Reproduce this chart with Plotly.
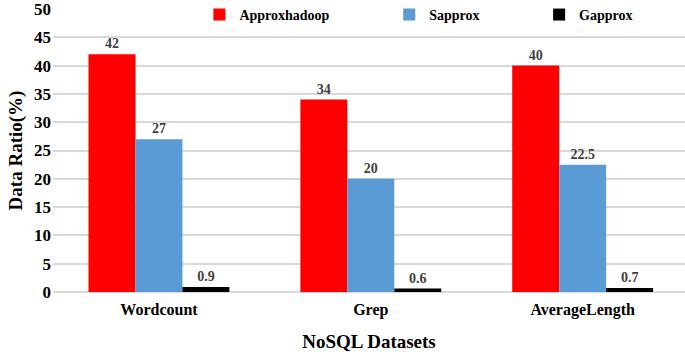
import plotly.graph_objects as go

categories = ["Wordcount", "Grep", "AverageLength"]
approxhadoop = [42, 34, 40]
sapprox = [27, 20, 22.5]
gapprox = [0.9, 0.6, 0.7]
series_names = ["Approxhadoop", "Sapprox", "Gapprox"]
colors = ["#FF0000", "#5B9BD5", "#000000"]

FONT = "Liberation Serif"

W, H = 685, 354
L, T, B, R = 52.5, 9, 62, 0
PW = W - L - R

fig = go.Figure()
legends = ["legend", "legend2", "legend3"]
for name, vals, col, lg in zip(series_names, [approxhadoop, sapprox, gapprox], colors, legends):
    fig.add_trace(go.Bar(
        x=categories, y=vals, name=name, marker=dict(color=col, line=dict(width=0)),
        text=[str(v) for v in vals], textposition="outside",
        textfont=dict(family=FONT, size=14, color="#404040", weight="bold"),
        cliponaxis=False, legend=lg, showlegend=True,
    ))

leg_common = dict(orientation="h", bgcolor="rgba(0,0,0,0)", yanchor="middle", y=0.979,
                  xanchor="left", font=dict(family=FONT, size=14, color="#000000", weight="bold"),
                  itemwidth=30, visible=True)

fig.update_layout(
    width=W, height=H,
    showlegend=True,
    margin=dict(l=L, r=R, t=T, b=B, autoexpand=False),
    paper_bgcolor="white", plot_bgcolor="white",
    barmode="group", bargap=0.335, bargroupgap=0,
    font=dict(family=FONT, color="#000000"),
    legend=dict(leg_common, x=(199 - L) / PW),
    legend2=dict(leg_common, x=(389 - L) / PW),
    legend3=dict(leg_common, x=(539 - L) / PW),
    xaxis=dict(range=[-0.5, 2.483], showgrid=False, showline=False, ticks="", automargin=False,
               tickfont=dict(family=FONT, size=16, weight="bold"), ticklabelstandoff=6,
               title=dict(text="NoSQL Datasets", font=dict(family=FONT, size=19, weight="bold"), standoff=16)),
    yaxis=dict(range=[0, 50], dtick=5, showgrid=True, gridcolor="#D9D9D9", gridwidth=1.5, automargin=False,
               zeroline=True, zerolinecolor="#D9D9D9", zerolinewidth=1.5, ticklabeloverflow="allow",
               tickfont=dict(family=FONT, size=17, weight="bold"), ticks="", ticklabelstandoff=1,
               title=dict(text="Data Ratio(%)", font=dict(family=FONT, size=19, weight="bold"), standoff=6)),
)

fig.write_html("out.html", config={"displayModeBar": False},
               post_script="document.body.style.margin='0';")
